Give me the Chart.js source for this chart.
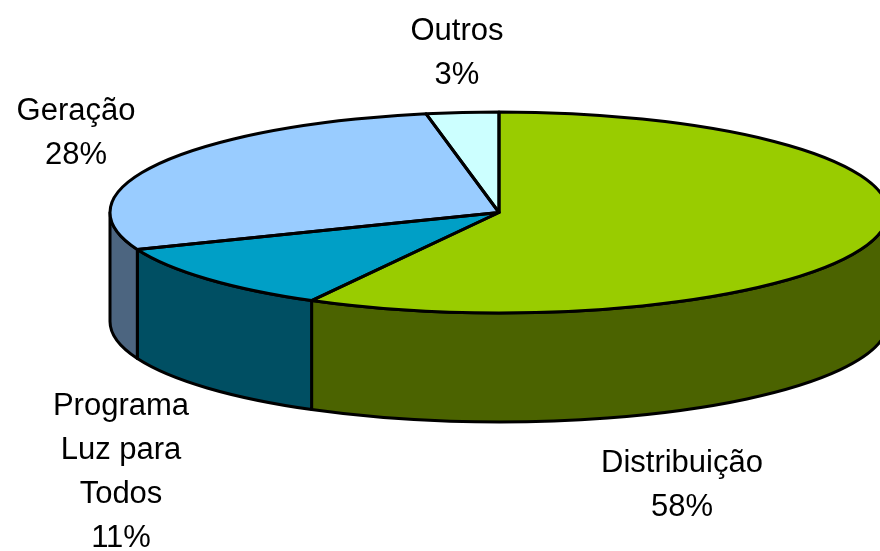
<!DOCTYPE html>
<html>
<head>
<meta charset="utf-8">
<script src="https://cdn.jsdelivr.net/npm/chart.js@4"></script>
<style>
  html, body { margin: 0; padding: 0; background: #ffffff; }
  #wrap { width: 880px; height: 551px; }
</style>
</head>
<body>
<div id="wrap"><canvas id="pie3d" width="880" height="551"></canvas></div>
<script>
// dados do gráfico (sentido horário a partir do topo)
const categories = ['Distribuição', 'Programa Luz para Todos', 'Geração', 'Outros'];
const labelLines = [['Distribuição'], ['Programa', 'Luz para', 'Todos'], ['Geração'], ['Outros']];
const values = [58, 11, 28, 3];

const topColors = ['#99cc00', '#009fc6', '#99ccff', '#ccffff'];
const sideColors = ['#4b6300', '#004f63', '#4c6580', '#668080'];

// geometria da elipse (pizza 3D)
const CX = 499, CY = 212.5, RX = 389, RY = 100.5, DEPTH = 109;

// posição dos rótulos: centro x, baseline da primeira linha
const labelPos = [
    { x: 682, y: 472 },
    { x: 121, y: 415 },
    { x: 76, y: 120 },
    { x: 457, y: 40 }
];
const LINE_H = 44;

const pie3dPlugin = {
    id: 'pie3d',
    beforeDatasetsDraw(chart) {
        const ctx = chart.ctx;
        const meta = chart.getDatasetMeta(0);

        // paredes laterais (só a metade da frente, ângulos 0..PI)
        meta.data.forEach((arc, i) => {
            const a = Math.max(arc.startAngle, 0);
            const b = Math.min(arc.endAngle, Math.PI);
            if (b <= a) return;
            ctx.save();
            ctx.beginPath();
            ctx.ellipse(CX, CY, RX, RY, 0, a, b, false);
            ctx.lineTo(CX + RX * Math.cos(b), CY + DEPTH + RY * Math.sin(b));
            ctx.ellipse(CX, CY + DEPTH, RX, RY, 0, b, a, true);
            ctx.closePath();
            ctx.fillStyle = sideColors[i];
            ctx.fill();
            ctx.lineWidth = 3;
            ctx.lineJoin = 'round';
            ctx.strokeStyle = '#000';
            ctx.stroke();
            ctx.restore();
        });

        // achatar a pizza do Chart.js para a elipse
        const p = meta.data[0];
        const r0 = p.outerRadius;
        ctx.save();
        ctx.translate(CX, CY);
        ctx.scale(RX / r0, RY / r0);
        ctx.translate(-p.x, -p.y);
    },
    afterDatasetsDraw(chart) {
        const ctx = chart.ctx;
        ctx.restore();
        const meta = chart.getDatasetMeta(0);

        // contornos das fatias
        ctx.save();
        ctx.lineWidth = 3;
        ctx.lineJoin = 'round';
        ctx.strokeStyle = '#000';
        meta.data.forEach(arc => {
            ctx.beginPath();
            ctx.moveTo(CX, CY);
            ctx.ellipse(CX, CY, RX, RY, 0, arc.startAngle, arc.endAngle, false);
            ctx.closePath();
            ctx.stroke();
        });
        ctx.restore();

        // rótulos
        const total = values.reduce((s, v) => s + v, 0);
        ctx.save();
        ctx.fillStyle = '#000';
        ctx.font = '31px "Liberation Sans", Arial, sans-serif';
        ctx.textAlign = 'center';
        ctx.textBaseline = 'alphabetic';
        labelLines.forEach((lines, i) => {
            const pct = Math.round(values[i] / total * 100) + '%';
            const all = lines.concat([pct]);
            all.forEach((t, k) => {
                ctx.fillText(t, labelPos[i].x, labelPos[i].y + k * LINE_H);
            });
        });
        ctx.restore();
    }
};

new Chart(document.getElementById('pie3d'), {
    type: 'pie',
    data: {
        labels: categories,
        datasets: [{
            data: values,
            backgroundColor: topColors,
            borderWidth: 0,
            clip: false
        }]
    },
    options: {
        responsive: false,
        devicePixelRatio: 1,
        animation: false,
        events: [],
        plugins: {
            legend: { display: false },
            tooltip: { enabled: false }
        }
    },
    plugins: [pie3dPlugin]
});
</script>
</body>
</html>
